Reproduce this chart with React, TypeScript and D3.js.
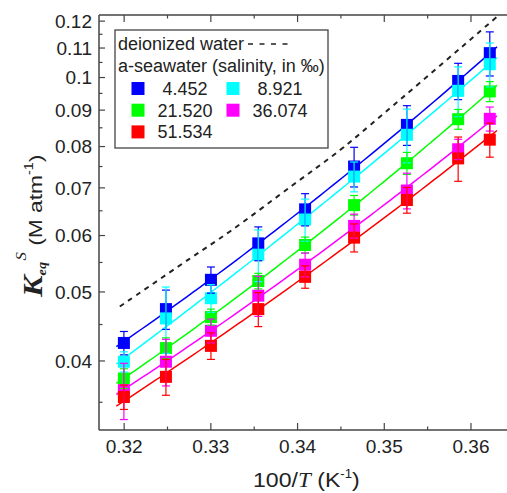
import React from 'react';
import * as d3 from 'd3';

// ---- data ----
const xVals = [0.31997, 0.32482, 0.33001, 0.33547, 0.34087, 0.34652, 0.35261, 0.35852, 0.36217];
const seriesNames = ['4.452', '8.921', '21.520', '36.074', '51.534'];
const seriesColors = ['#0000ff', '#00ffff', '#00ff00', '#ff00ff', '#ff0000'];
const blueVals = [0.0424, 0.0473, 0.0520, 0.0585, 0.0653, 0.0750, 0.0858, 0.0989, 0.1082];
const cyanVals = [0.0399, 0.0459, 0.0490, 0.0564, 0.0632, 0.0726, 0.0831, 0.0958, 0.1044];
const greenVals = [0.0378, 0.0417, 0.0461, 0.0518, 0.0582, 0.0662, 0.0758, 0.0874, 0.0956];
const magentaVals = [0.0364, 0.0399, 0.0441, 0.0494, 0.0546, 0.0619, 0.0694, 0.0793, 0.0875];
const redVals = [0.0356, 0.0380, 0.0420, 0.0473, 0.0525, 0.0596, 0.0673, 0.0770, 0.0818];
const blueErr = [0.0016, 0.0030, 0.0022, 0.0032, 0.0034, 0.0048, 0.0055, 0.0058, 0.0077];
const cyanErr = [0.0013, 0.0049, 0.0022, 0.0047, 0.0043, 0.0035, 0.0072, 0.0077, 0.0074];
const greenErr = [0.0012, 0.0014, 0.0012, 0.0013, 0.0015, 0.0021, 0.0027, 0.0028, 0.0031];
const magentaErr = [0.0033, 0.0030, 0.0017, 0.0032, 0.0021, 0.0024, 0.0040, 0.0026, 0.0034];
const redErr = [0.0014, 0.0022, 0.0018, 0.0026, 0.0019, 0.0027, 0.0028, 0.0055, 0.0045];
const deionX = [0.3195, 0.3274, 0.3322, 0.3395, 0.3449, 0.3484, 0.3630];
const deionY = [0.0477, 0.0555, 0.0608, 0.0707, 0.0791, 0.0858, 0.1217];
const fitRange = [0.3191, 0.3630];
const yTicks = [0.04, 0.05, 0.06, 0.07, 0.08, 0.09, 0.1, 0.11, 0.12];
const yTickLabels = ['0.04', '0.05', '0.06', '0.07', '0.08', '0.09', '0.1', '0.11', '0.12'];
const yMinor = [0.035, 0.045, 0.055, 0.065, 0.075, 0.085, 0.095, 0.105, 0.115];
const xTicks = [0.32, 0.33, 0.34, 0.35, 0.36];
const xTickLabels = ['0.32', '0.33', '0.34', '0.35', '0.36'];
const xMinor = [0.325, 0.335, 0.345, 0.355, 0.365];

const allVals = [blueVals, cyanVals, greenVals, magentaVals, redVals];
const allErr = [blueErr, cyanErr, greenErr, magentaErr, redErr];

// ---- layout ----
const W = 507, H = 493;
const L = 99, R = 510, T = 15, B = 430;
const FONT = "'Liberation Sans', Arial, sans-serif";
const SERIF = "'Liberation Serif', 'Times New Roman', serif";
const AX = '#444';

const x = d3.scaleLinear().domain([0.3171, 0.3645]).range([L, R]);
const y = d3.scaleLog().domain([0.032, 0.1224]).range([B, T]);

function quadFit(xs: number[], vs: number[]) {
  const m = d3.mean(xs) as number;
  const ts = xs.map((v) => v - m);
  const ys = vs.map((v) => Math.log10(v));
  const S = [0, 0, 0, 0, 0];
  const Sy = [0, 0, 0];
  ts.forEach((t, i) => {
    for (let k = 0; k < 5; k++) S[k] += Math.pow(t, k);
    for (let k = 0; k < 3; k++) Sy[k] += Math.pow(t, k) * ys[i];
  });
  const A = [
    [S[0], S[1], S[2], Sy[0]],
    [S[1], S[2], S[3], Sy[1]],
    [S[2], S[3], S[4], Sy[2]],
  ];
  for (let i = 0; i < 3; i++) {
    let p = i;
    for (let r = i + 1; r < 3; r++) if (Math.abs(A[r][i]) > Math.abs(A[p][i])) p = r;
    [A[i], A[p]] = [A[p], A[i]];
    for (let r = 0; r < 3; r++) {
      if (r === i) continue;
      const f = A[r][i] / A[i][i];
      for (let c = i; c < 4; c++) A[r][c] -= f * A[i][c];
    }
  }
  const c0 = A[0][3] / A[0][0], c1 = A[1][3] / A[1][1], c2 = A[2][3] / A[2][2];
  return (xx: number) => Math.pow(10, c0 + c1 * (xx - m) + c2 * (xx - m) * (xx - m));
}

export default function App() {
  const lineGen = d3.line<[number, number]>().x((d) => x(d[0])).y((d) => y(d[1]));
  const curveGen = d3.line<[number, number]>().x((d) => x(d[0])).y((d) => y(d[1])).curve(d3.curveCatmullRom);
  const samples = d3.range(0, 61).map((i) => fitRange[0] + (fitRange[1] - fitRange[0]) * i / 60);
  const fits = allVals.map((vs) => {
    const f = quadFit(xVals, vs);
    return lineGen(samples.map((s) => [s, f(s)] as [number, number]));
  });
  const deionPath = curveGen(deionX.map((d, i) => [d, deionY[i]] as [number, number]));

  const legendRows = [
    [0, 1],
    [2, 3],
    [4],
  ];

  return (
    <svg width={W} height={H} style={{ position: 'absolute', left: 0, top: 0, background: '#fff' }} fontFamily={FONT}>
      <rect x={0} y={0} width={W} height={H} fill="#fff" />
      {/* fit lines */}
      {fits.map((p, i) => (
        <path key={'f' + i} d={p || ''} fill="none" stroke={seriesColors[i]} strokeWidth={1.5} />
      ))}
      {/* deionized water dashed */}
      <path d={deionPath || ''} fill="none" stroke="#222" strokeWidth={2} strokeDasharray="5,5" />
      {/* squares */}
      {allVals.map((vs, si) =>
        vs.map((v, i) => (
          <rect key={'s' + si + '-' + i} x={x(xVals[i]) - 6} y={y(v) - 6} width={12} height={12} fill={seriesColors[si]} />
        ))
      )}
      {/* error bars */}
      {allVals.map((vs, si) =>
        vs.map((v, i) => {
          const cx = x(xVals[i]);
          const y1 = y(v + allErr[si][i]);
          const y2 = y(v - allErr[si][i]);
          const c = seriesColors[si];
          return (
            <g key={'e' + si + '-' + i} stroke={c} strokeWidth={1.2}>
              <line x1={cx} x2={cx} y1={y1} y2={y2} />
              <line x1={cx - 4} x2={cx + 4} y1={y1} y2={y1} />
              <line x1={cx - 4} x2={cx + 4} y1={y2} y2={y2} />
            </g>
          );
        })
      )}
      {/* frame */}
      <line x1={L} x2={L} y1={T} y2={B} stroke={AX} strokeWidth={1.5} />
      <line x1={L} x2={W} y1={B} y2={B} stroke={AX} strokeWidth={1.5} />
      <line x1={L} x2={W} y1={T} y2={T} stroke={AX} strokeWidth={1.5} />
      {/* y ticks */}
      {yTicks.map((t, i) => (
        <g key={'yt' + i}>
          <line x1={L} x2={L + 6} y1={y(t)} y2={y(t)} stroke={AX} strokeWidth={1.2} />
          <text x={92} y={y(t)} dy="0.36em" textAnchor="end" fontSize={19} fill="#222">
            {yTickLabels[i]}
          </text>
        </g>
      ))}
      {yMinor.map((t, i) => (
        <line key={'ym' + i} x1={L} x2={L + 3.5} y1={y(t)} y2={y(t)} stroke={AX} strokeWidth={1.2} />
      ))}
      {/* x ticks */}
      {xTicks.map((t, i) => (
        <g key={'xt' + i}>
          <line x1={x(t)} x2={x(t)} y1={B} y2={B - 7} stroke={AX} strokeWidth={1.2} />
          <line x1={x(t)} x2={x(t)} y1={T} y2={T + 7} stroke={AX} strokeWidth={1.2} />
          <text x={x(t)} y={453} textAnchor="middle" fontSize={19} fill="#222">
            {xTickLabels[i]}
          </text>
        </g>
      ))}
      {xMinor.map((t, i) => (
        <g key={'xm' + i}>
          <line x1={x(t)} x2={x(t)} y1={B} y2={B - 3.5} stroke={AX} strokeWidth={1.2} />
          <line x1={x(t)} x2={x(t)} y1={T} y2={T + 3.5} stroke={AX} strokeWidth={1.2} />
        </g>
      ))}
      {/* x title */}
      <text transform="translate(253,487) scale(1.1,1)" fontSize={21} fill="#222">
        100/<tspan fontFamily={SERIF} fontStyle="italic">T</tspan> (K
        <tspan fontSize={12} dy={-9}>-1</tspan>
        <tspan dy={9}>)</tspan>
      </text>
      {/* y title */}
      <text transform="translate(42,297) rotate(-90) scale(1.2,1)" fontSize={19} fill="#222">
        <tspan fontFamily={SERIF} fontStyle="italic" fontWeight="bold" fontSize={27}>K</tspan>
        <tspan fontFamily={SERIF} fontStyle="italic" fontWeight="bold" fontSize={12} dy={4}>eq</tspan>
        <tspan fontFamily={SERIF} fontStyle="italic" fontSize={14} dy={-20} dx={1}>S</tspan>
        <tspan dy={16}> (M atm</tspan>
        <tspan fontSize={12} dy={-9}>-1</tspan>
        <tspan dy={9}>)</tspan>
      </text>
      {/* legend */}
      <rect x={115} y={30} width={213} height={118} fill="#fff" stroke={AX} strokeWidth={1.3} />
      <text x={118} y={50} fontSize={18} fill="#222">deionized water</text>
      <line x1={248} x2={292} y1={44} y2={44} stroke="#222" strokeWidth={1.5} strokeDasharray="5,6.5" />
      <text x={118} y={72} fontSize={18} fill="#222">a-seawater (salinity, in ‰)</text>
      {legendRows.map((row, ri) =>
        row.map((si, ci) => {
          const cy = 88.5 + ri * 21.7;
          const sx = ci === 0 ? 138 : 233;
          const tx = ci === 0 ? 185 : 280;
          return (
            <g key={'lg' + si}>
              <rect x={sx - 6.5} y={cy - 6.5} width={13} height={13} fill={seriesColors[si]} />
              <text x={tx} y={cy} dy="0.36em" textAnchor="middle" fontSize={18} fill="#222">
                {seriesNames[si]}
              </text>
            </g>
          );
        })
      )}
    </svg>
  );
}
